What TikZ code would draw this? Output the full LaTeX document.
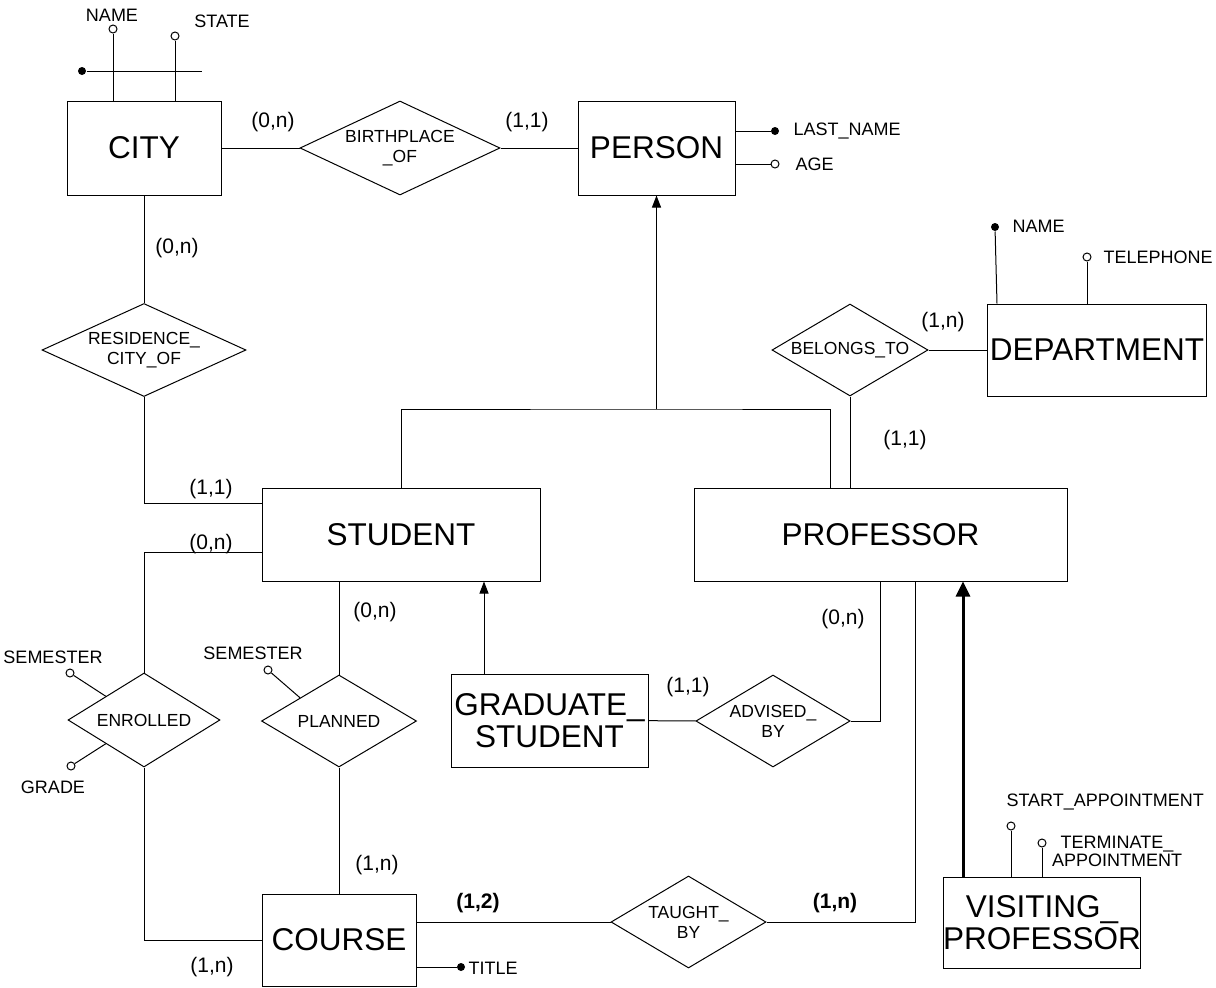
\documentclass[tikz,border=0pt]{standalone}
\usepackage{fontspec}
\setmainfont{Liberation Sans}
\usetikzlibrary{shapes.geometric, arrows.meta}

\tikzset{
  entity/.style={draw, rectangle, inner sep=0pt, align=center, font=\fontsize{31.5}{32}\selectfont},
  relation/.style={draw, diamond, shape aspect=2.1, inner sep=0pt, align=center, font=\fontsize{17.5}{20}\selectfont},
  card/.style={inner sep=0pt, font=\fontsize{21}{24}\selectfont},
  attr/.style={inner sep=1pt, align=center, font=\fontsize{18}{18}\selectfont},
  keydot/.style={circle, fill=black, inner sep=0pt, minimum size=8pt},
  optdot/.style={circle, draw, fill=white, inner sep=0pt, minimum size=8pt},
  isa/.style={-{Triangle[length=12pt,width=9pt]}},
  thickisa/.style={line width=3pt, -{Triangle[length=15pt,width=14pt]}}
}

\begin{document}
\begin{tikzpicture}[x=1pt, y=-1pt, line width=1pt]
\useasboundingbox (0,0) rectangle (1216,988);

% entities
\node[entity, minimum width=154pt, minimum height=94pt] (city) at (144,148) {CITY};
\node[entity, minimum width=157pt, minimum height=94pt] (person) at (656.5,148) {PERSON};
\node[entity, minimum width=219pt, minimum height=92pt] (dept) at (1097,350) {DEPARTMENT};
\node[entity, minimum width=278pt, minimum height=93pt] (student) at (401,534.5) {STUDENT};
\node[entity, minimum width=373pt, minimum height=93pt] (profe) at (880.5,534.5) {PROFESSOR};
\node[entity, minimum width=197pt, minimum height=93pt] (grad) at (549.5,720.5) {GRADUATE\_\\STUDENT};
\node[entity, minimum width=154pt, minimum height=92pt] (course) at (339,940) {COURSE};
\node[entity, minimum width=194pt, minimum height=91pt] (visit) at (1042,922.5) {VISITING\_\\PROFESSOR};

% relationships
\node[relation, minimum width=200pt, minimum height=94pt] (birth) at (400,148) {BIRTHPLACE\\\_OF};
\node[relation, minimum width=204pt, minimum height=93pt] (resid) at (144,350) {RESIDENCE\_\\CITY\_OF};
\node[relation, minimum width=156pt, minimum height=92pt] (belong) at (850,350) {BELONGS\_TO};
\node[relation, minimum width=152pt, minimum height=94pt] (enrol) at (144,720) {ENROLLED};
\node[relation, minimum width=155pt, minimum height=92pt] (plan) at (339,721) {PLANNED};
\node[relation, minimum width=154pt, minimum height=92pt] (adv) at (773,721) {ADVISED\_\\BY};
\node[relation, minimum width=155pt, minimum height=92pt] (taught) at (688.5,922) {TAUGHT\_\\BY};

% links
\draw (city) -- (birth);
\draw (birth) -- (person);
\draw (city) -- (resid);
\draw (resid) |- ([yshift=-16pt]student.north west);
\draw ([yshift=-17.5pt]student.west) -| (enrol);
\draw (enrol) |- (course);
\draw (plan) -- (plan |- student.south);
\draw (plan) -- (course);
\draw (belong) -- (dept);
\draw (belong) -- (belong |- profe.north);
\draw (grad) -- (adv);
\draw (adv) -| (profe.south);
\draw (taught) -- (taught -| course.east);
\draw (taught) -| ([xshift=34.5pt]profe.south);

% generalizations
\coordinate (isa) at (656.5,409);
\draw (student.north) |- (isa) -| ([xshift=-50pt]profe.north);
\draw[isa] (isa) -- (person.south);
\draw[isa] ([xshift=-65.5pt]grad.north) -- ([xshift=-65.5pt]grad.north |- student.south);
\draw[thickisa] ([xshift=-79pt]visit.north) -- ([xshift=-79pt]visit.north |- profe.south);

% attributes
\node[optdot] (cnamedot) at (113,29) {};
\node[optdot] (cstatedot) at (175,36) {};
\node[attr] (cname) at (112,15.5) {NAME};
\node[attr] (cstate) at (222,21.5) {STATE};
\draw (cnamedot) -- (cnamedot |- city.north);
\draw (cstatedot) -- (cstatedot |- city.north);
\node[keydot] (ckey) at (82,71) {};
\coordinate (ckeyend) at (202,71);
\draw (ckey) -- (ckeyend);

\node[keydot] (plastdot) at (775,131) {};
\node[attr, anchor=west] (plast) at (792,131) {LAST\_NAME};
\draw (plastdot) -- (plastdot -| person.east);
\node[optdot] (pagedot) at (775,164) {};
\node[attr, anchor=west] (page) at (794,164) {AGE};
\draw (pagedot) -- (pagedot -| person.east);

\node[keydot] (dnamedot) at (995,227) {};
\node[attr, anchor=west] (dname) at (1011,226) {NAME};
\draw (dnamedot) -- ([xshift=-100pt]dept.north);
\node[optdot] (dteldot) at (1087,257) {};
\node[attr, anchor=west] (dtel) at (1102,257) {TELEPHONE};
\draw (dteldot) -- (dteldot |- dept.north);

\node[optdot] (esemdot) at (70,673) {};
\node[attr] (esem) at (53,657) {SEMESTER};
\draw (esemdot) -- (enrol.north west);
\node[optdot] (egradedot) at (71,766) {};
\node[attr] (egrade) at (53,787) {GRADE};
\draw (egradedot) -- (enrol.south west);

\node[optdot] (psemdot) at (268,670) {};
\node[attr] (psem) at (253,653) {SEMESTER};
\draw (psemdot) -- (plan.north west);

\node[keydot] (ctitledot) at (461,967) {};
\node[attr, anchor=west] (ctitle) at (467,968) {TITLE};
\draw (ctitledot) -- (ctitledot -| course.east);

\node[optdot] (vstartdot) at (1011,826) {};
\node[attr, anchor=west] (vstart) at (1005,802) {START\_APPOINTMENT};
\draw (vstartdot) -- (vstartdot |- visit.north);
\node[optdot] (vtermdot) at (1042,843) {};
\node[attr] (vterm) at (1117,851) {TERMINATE\_\\APPOINTMENT};
\draw (vtermdot) -- (vtermdot |- visit.north);

% cardinalities
\node[card] (kcitybirth) at (273,122) {(0,n)};
\node[card] (kpersonbirth) at (527,122) {(1,1)};
\node[card] (kcityresid) at (177,248) {(0,n)};
\node[card] (kstudresid) at (211,489) {(1,1)};
\node[card] (kstudenrol) at (211,544) {(0,n)};
\node[card] (kstudplan) at (375,612) {(0,n)};
\node[card] (kcourseenrol) at (212,967) {(1,n)};
\node[card] (kcourseplan) at (377,865) {(1,n)};
\node[card, font=\fontsize{21}{24}\selectfont\bfseries] (kcoursetaught) at (478,903) {(1,2)};
\node[card, font=\fontsize{21}{24}\selectfont\bfseries] (kproftaught) at (835,903) {(1,n)};
\node[card] (kgradadv) at (688,687) {(1,1)};
\node[card] (kprofadv) at (843,619) {(0,n)};
\node[card] (kdeptbelong) at (943,322) {(1,n)};
\node[card] (kprofbelong) at (905,440) {(1,1)};
\end{tikzpicture}
\end{document}
